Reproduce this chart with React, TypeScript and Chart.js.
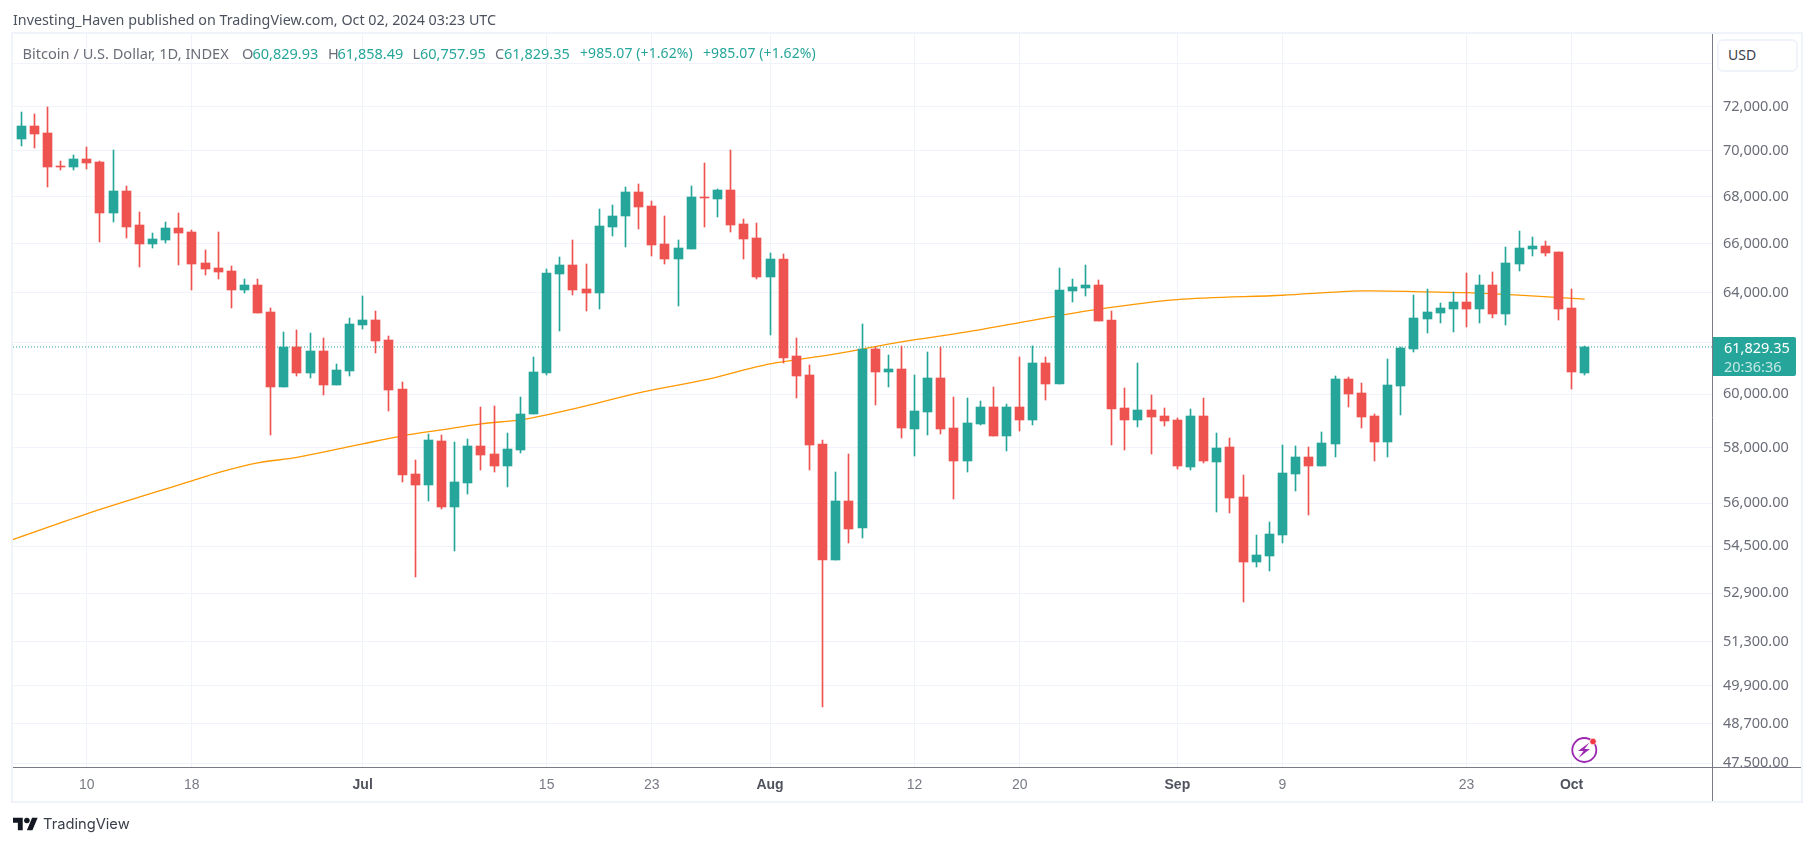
import React, { useEffect, useRef } from "react";
import { Chart, registerables } from "chart.js";

Chart.register(...registerables);

const opens = [
  70534,71115,70802,69338,69295,69646,69514,67305,68250,66796,
  65998,66165,66670,66500,65208,65002,64879,64103,64306,63217,
  60285,61831,60822,61675,60362,60899,62698,62897,62106,60209,
  57054,56658,58259,55875,56730,58075,57782,57344,57928,59264,
  60822,64756,65127,64143,63982,66712,67178,68207,67604,65998,
  65374,65788,67991,67905,68293,66839,66249,64632,65374,61480,
  60745,58149,54031,56088,55137,61753,60861,60976,58703,59339,
  60630,58741,57525,58890,59527,58444,59527,59039,61209,60400,
  64063,64184,64306,62897,59490,59039,59414,59189,59039,57308,
  59189,57489,58038,56229,53963,54168,54893,57054,57672,57344,
  58149,60591,60057,59189,58222,60324,61753,62937,63177,63337,
  63618,63337,64306,63137,65167,65788,65914,65664,63377,60829.93,
];
const closes = [
  71115,70757,69295,69295,69646,69470,67305,68250,66712,65998,
  66207,66670,66459,65167,64961,64838,64103,64306,63177,60285,
  61831,60822,61675,60362,60938,62738,62897,62067,60171,57018,
  56658,58296,55875,56766,58075,57745,57344,57965,59264,60861,
  64797,65127,64103,63982,66754,67178,68207,67561,65956,65374,
  65830,67991,67948,68293,66796,66207,64632,65374,61402,60707,
  58112,54031,56088,55102,61753,60861,60976,58741,59376,60630,
  58703,57525,58927,59527,58444,59527,59039,61209,60400,64103,
  64225,64306,62857,59452,59039,59414,59151,59002,57344,59189,
  57525,58002,56194,53963,54202,54928,57090,57672,57344,58185,
  60591,60019,59151,58222,60362,61792,62977,63217,63377,63618,
  63337,64306,63137,65208,65830,65914,65622,63337,60844.42,61829.35,
];
const highs = [
  71750,71660,71977,69558,69823,70177,69558,70044,68466,67348,
  66459,66923,67305,66585,65747,66500,65085,64551,64551,63377,
  62421,62500,62382,62185,61170,62977,63860,63257,62263,60477,
  57562,58518,58481,58222,58333,59527,59565,58555,59905,61442,
  64961,65456,66165,65167,67476,67647,68422,68553,67819,67178,
  66165,68466,69470,68336,70044,67050,66881,65622,65581,62185,
  61131,58296,57127,57782,62738,61831,61519,61870,60745,61636,
  61831,59905,59867,59753,60285,59640,61442,61870,61442,65002,
  64551,65127,64510,63257,60247,61209,59981,59490,59114,59452,
  59867,58555,58370,57018,54893,55347,58112,58075,58038,58592,
  60707,60668,60438,59264,61363,61831,63901,64143,63577,64022,
  64797,64715,64838,65872,66543,66291,66123,65664,64143,61858.49,
];
const lows = [
  70222,70133,68422,69163,69163,69207,66081,66923,66249,65044,
  65830,66040,65127,64103,64715,64551,63377,63982,63177,58481,
  60285,60707,60630,59981,60362,60707,62540,61597,59376,56766,
  53452,56088,55804,54340,56336,57199,57127,56586,57818,59264,
  60745,62461,63901,63257,63337,66333,65872,66627,65498,65167,
  63458,65788,66712,67135,66500,65374,64551,62303,61209,59867,
  57199,49228,54031,54616,54789,59602,60285,58370,57708,58481,
  58518,56158,57127,58852,58444,57891,58629,58852,59791,60400,
  63618,63860,62857,58112,57928,58778,57782,58815,57235,57199,
  57452,55698,55663,52613,53792,53656,54616,56444,55593,57344,
  57672,59527,58741,57525,57672,59226,61636,62382,62778,62421,
  62618,62778,62977,62698,64879,65498,65498,62897,60209,60757.95,
];

const maIndex = [-1,5,13,15,18,21,26,29,32,35,38,40,43,47,52,57,62,67,72,76,82,88,96,102,107,110,114,119];
const maValues = [54668,55628,56802,57100,57452,57652,58148,58444,58666,58890,59039,59226,59565,60057,60553,61170,61559,62028,62421,62790,63325,63711,63888,64063,64022,63994,63893,63727];

const xTickIndex = [5,13,26,40,48,57,68,76,88,96,110,118];
const xTickLabels = ["10","18","Jul","15","23","Aug","12","20","Sep","9","23","Oct"];
const boldLabels = ["Jul","Aug","Sep","Oct"];
const yTicks = [74000,72000,70000,68000,66000,64000,62000,60000,58000,56000,54500,52900,51300,49900,48700,47500];

const GREEN = "#26a69a";
const RED = "#ef5350";
const GRID = "#f0f3fa";
const AXIS = "#787b86";
const UI_FONT = '"Noto Sans", sans-serif';
const lastClose = closes[closes.length - 1];

const isBold = (c: any) => boldLabels.includes(xTickLabels[xTickIndex.indexOf(c?.tick?.value)]);

const snapBars = {
  id: "snapBars",
  afterDatasetsUpdate(chart: any) {
    chart.data.datasets.forEach((ds: any, i: number) => {
      if (ds.type !== "bar") return;
      chart.getDatasetMeta(i).data.forEach((el: any) => {
        el.x = Math.floor(el.x) + 0.5;
        const a = Math.round(el.y);
        let b = Math.round(el.base);
        if (a === b) b = a + 1;
        el.y = a;
        el.base = b;
      });
    });
  },
};

const frame = {
  id: "frame",
  afterDraw(chart: any) {
    const { ctx, chartArea: a } = chart;
    ctx.save();
    ctx.fillStyle = "#ffffff";
    ctx.fillRect(a.right + 1, a.bottom, 89, 34);
    ctx.strokeStyle = GRID;
    ctx.lineWidth = 2;
    ctx.strokeRect(a.left - 1, a.top - 1, 1803 - a.left, 803 - a.top);
    ctx.strokeStyle = AXIS;
    ctx.lineWidth = 1;
    ctx.beginPath();
    ctx.moveTo(a.left, a.bottom + 0.5);
    ctx.lineTo(1801, a.bottom + 0.5);
    ctx.moveTo(a.right + 0.5, a.top);
    ctx.lineTo(a.right + 0.5, 801);
    ctx.stroke();
    ctx.restore();
  },
};

const abs = (x: number, y: number, extra: any = {}): any => ({
  position: "absolute",
  left: x,
  top: y,
  whiteSpace: "nowrap",
  fontFamily: UI_FONT,
  lineHeight: "18px",
  ...extra,
});

export default function App() {
  const ref = useRef<HTMLCanvasElement>(null);
  useEffect(() => {
    const idx = opens.map((_, i) => i);
    const col = opens.map((o, i) => (closes[i] >= o ? GREEN : RED));
    const xMin = (13 - 21.05) / 13.14;
    const xMax = (1712 - 21.05) / 13.14;
    const chart = new Chart(ref.current as HTMLCanvasElement, {
      type: "bar",
      data: {
        datasets: [
          {
            type: "bar",
            label: "Body",
            data: idx.map((i) => ({ x: i, y: [opens[i], closes[i]] })),
            backgroundColor: col,
            barThickness: 9,
            minBarLength: 1,
            grouped: false,
            order: 0,
          },
          {
            type: "bar",
            label: "Wick",
            data: idx.map((i) => ({ x: i, y: [lows[i], highs[i]] })),
            backgroundColor: col,
            barThickness: 1,
            grouped: false,
            order: 1,
          },
          {
            type: "line",
            label: "MA",
            data: maIndex.map((x, i) => ({ x, y: maValues[i] })),
            borderColor: "#ff9800",
            borderWidth: 1.3,
            pointRadius: 0,
            tension: 0.3,
            order: 2,
          },
          {
            type: "line",
            label: "Last",
            data: [
              { x: xMin, y: lastClose },
              { x: xMax, y: lastClose },
            ],
            borderColor: GREEN,
            borderWidth: 1,
            borderDash: [1, 2],
            pointRadius: 0,
            order: 3,
          },
        ] as any,
      },
      options: {
        animation: false,
        responsive: false,
        layout: { padding: { left: 13, top: 34, right: 13, bottom: 44 } },
        plugins: { legend: { display: false }, tooltip: { enabled: false } },
        scales: {
          x: {
            type: "linear",
            offset: false,
            min: xMin,
            max: xMax,
            afterBuildTicks: (s: any) => {
              s.ticks = xTickIndex.map((v) => ({ value: v }));
            },
            afterFit: (s: any) => {
              s.height = 35;
            },
            grid: { color: GRID, drawTicks: false, offset: false },
            border: { display: false },
            ticks: {
              autoSkip: false,
              maxRotation: 0,
              padding: 10,
              callback: (v: any) => xTickLabels[xTickIndex.indexOf(Number(v))] ?? "",
              color: (c: any) => (isBold(c) ? "#50535e" : AXIS),
              font: (c: any) => ({
                family: '"Liberation Sans", sans-serif',
                size: 14,
                weight: isBold(c) ? "bold" : "normal",
              }),
            },
          },
          y: {
            type: "logarithmic",
            position: "right",
            min: 47387,
            max: 75383,
            afterBuildTicks: (s: any) => {
              s.ticks = yTicks.map((v) => ({ value: v }));
            },
            afterFit: (s: any) => {
              s.width = 90;
            },
            grid: { color: GRID, drawTicks: false },
            border: { display: false },
            ticks: {
              autoSkip: false,
              padding: 11,
              color: "#6a6d78",
              font: { family: UI_FONT, size: 14.5 },
              callback: (v: any) =>
                Number(v) === 74000
                  ? ""
                  : Number(v).toLocaleString("en-US", { minimumFractionDigits: 2, maximumFractionDigits: 2 }),
            },
          },
        },
      },
      plugins: [snapBars, frame],
    } as any);
    return () => chart.destroy();
  }, []);

  const gray = { color: "#6a6d78", fontSize: 14.5 };
  const val = { color: GREEN, fontSize: 14.5 };
  const chg = { color: GREEN, fontSize: 14, letterSpacing: "0.1px" };
  return (
    <div style={{ position: "absolute", left: 0, top: 0, width: 1815, height: 846, background: "#fff", overflow: "hidden" }}>
      <canvas ref={ref} width={1815} height={846} style={{ display: "block", width: 1815, height: 846 }} />
      <div style={abs(13, 11, { color: "#4c525e", fontSize: 14.3 })}>Investing_Haven published on TradingView.com, Oct 02, 2024 03:23 UTC</div>
      <div style={abs(22.5, 44, { ...gray, fontSize: 14.6 })}>Bitcoin / U.S. Dollar, 1D, INDEX</div>
      <div style={abs(242, 44, gray)}>O</div>
      <div style={abs(252.5, 44, val)}>60,829.93</div>
      <div style={abs(328, 44, gray)}>H</div>
      <div style={abs(337.5, 44, val)}>61,858.49</div>
      <div style={abs(412.5, 44, gray)}>L</div>
      <div style={abs(420, 44, val)}>60,757.95</div>
      <div style={abs(495, 44, gray)}>C</div>
      <div style={abs(504, 44, val)}>61,829.35</div>
      <div style={abs(580, 44, chg)}>+985.07 (+1.62%)</div>
      <div style={abs(703, 44, chg)}>+985.07 (+1.62%)</div>
      <div style={{ position: "absolute", left: 1717, top: 39, width: 77, height: 29, border: `2px solid ${GRID}`, borderRadius: 6, background: "#fff" }} />
      <div style={abs(1728, 46, { color: "#3a3e4a", fontSize: 14 })}>USD</div>
      <div style={{ position: "absolute", left: 1713, top: 337, width: 83, height: 39, background: GREEN, borderRadius: "0 2px 2px 0" }} />
      <div style={abs(1724, 338, { color: "#fff", fontSize: 14.5 })}>61,829.35</div>
      <div style={abs(1724, 357, { color: "#c4e8e4", fontSize: 14.5 })}>20:36:36</div>
      <svg style={{ position: "absolute", left: 1568, top: 736 }} width="32" height="30" viewBox="0 0 32 30">
        <circle cx="16.3" cy="14" r="12" fill="none" stroke="#9c27b0" strokeWidth="1.8" />
        <path d="M21.5 6.5 L10 15 L15.5 15 L10.5 22 L22 13 L16.5 13 Z" fill="#9c27b0" />
        <circle cx="25" cy="5.5" r="3.2" fill="#f23645" stroke="#fff" strokeWidth="0.6" />
      </svg>
      <svg style={{ position: "absolute", left: 13, top: 814.5 }} width="25" height="16" viewBox="0 0 36 23">
        <path d="M14 22H7V11H0V4h14v18zM28 22h-8l7.5-18h8L28 22z" fill="#131722" />
        <circle cx="20" cy="8" r="4" fill="#131722" />
      </svg>
      <div style={abs(43, 815, { color: "#3a3e4a", fontSize: 14.7, fontFamily: "Inter, sans-serif" })}>TradingView</div>
    </div>
  );
}
